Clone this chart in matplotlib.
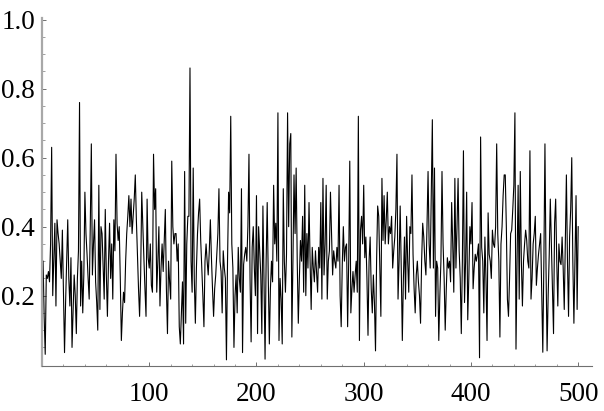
import matplotlib
matplotlib.use("Agg")
import matplotlib.pyplot as plt
from matplotlib.ticker import MultipleLocator, FixedLocator
import numpy as np

values = [
    0.30, 0.14, 0.03, 0.26, 0.25, 0.27, 0.24, 0.35, 0.63, 0.20,
    0.30, 0.41, 0.17, 0.42, 0.38, 0.35, 0.30, 0.25, 0.39, 0.22,
    0.035, 0.18, 0.30, 0.42, 0.25, 0.17, 0.31, 0.05, 0.15, 0.26,
    0.20, 0.09, 0.25, 0.33, 0.76, 0.17, 0.30, 0.15, 0.26, 0.50,
    0.38, 0.32, 0.25, 0.19, 0.40, 0.64, 0.26, 0.35, 0.42, 0.24,
    0.18, 0.10, 0.52, 0.16, 0.40, 0.38, 0.28, 0.19, 0.45, 0.26,
    0.14, 0.30, 0.41, 0.25, 0.35, 0.19, 0.42, 0.33, 0.61, 0.41,
    0.36, 0.40, 0.25, 0.07, 0.15, 0.21, 0.18, 0.30, 0.38, 0.43,
    0.49, 0.40, 0.48, 0.38, 0.43, 0.48, 0.55, 0.42, 0.32, 0.22,
    0.14, 0.26, 0.50, 0.40, 0.31, 0.22, 0.14, 0.48, 0.31, 0.28,
    0.35, 0.23, 0.21, 0.61, 0.45, 0.51, 0.21, 0.30, 0.40, 0.17,
    0.28, 0.35, 0.27, 0.36, 0.45, 0.22, 0.09, 0.30, 0.24, 0.19,
    0.59, 0.40, 0.35, 0.38, 0.38, 0.30, 0.35, 0.11, 0.06, 0.15,
    0.24, 0.06, 0.56, 0.12, 0.35, 0.43, 0.43, 0.86, 0.30, 0.21,
    0.57, 0.25, 0.12, 0.28, 0.38, 0.44, 0.48, 0.36, 0.28, 0.20,
    0.11, 0.30, 0.35, 0.30, 0.26, 0.33, 0.42, 0.31, 0.22, 0.14,
    0.22, 0.26, 0.32, 0.38, 0.51, 0.30, 0.27, 0.15, 0.33, 0.28,
    0.25, 0.014, 0.30, 0.50, 0.44, 0.72, 0.35, 0.28, 0.05, 0.20,
    0.26, 0.15, 0.34, 0.25, 0.21, 0.51, 0.035, 0.29, 0.32, 0.34,
    0.30, 0.40, 0.61, 0.25, 0.066, 0.34, 0.40, 0.28, 0.20, 0.49,
    0.09, 0.40, 0.33, 0.26, 0.09, 0.46, 0.25, 0.016, 0.30, 0.47,
    0.25, 0.06, 0.22, 0.30, 0.24, 0.52, 0.35, 0.41, 0.30, 0.73,
    0.07, 0.25, 0.19, 0.06, 0.51, 0.30, 0.21, 0.32, 0.73, 0.40,
    0.64, 0.67, 0.08, 0.30, 0.55, 0.38, 0.57, 0.30, 0.12, 0.25,
    0.36, 0.30, 0.43, 0.21, 0.52, 0.20, 0.38, 0.28, 0.47, 0.30,
    0.16, 0.34, 0.28, 0.24, 0.33, 0.27, 0.21, 0.34, 0.28, 0.47,
    0.19, 0.54, 0.26, 0.35, 0.52, 0.19, 0.30, 0.33, 0.50, 0.38,
    0.26, 0.33, 0.30, 0.28, 0.34, 0.30, 0.52, 0.20, 0.11, 0.29,
    0.40, 0.30, 0.34, 0.35, 0.11, 0.30, 0.59, 0.15, 0.22, 0.27,
    0.21, 0.26, 0.30, 0.21, 0.72, 0.07, 0.39, 0.43, 0.35, 0.52,
    0.31, 0.37, 0.25, 0.085, 0.30, 0.37, 0.22, 0.15, 0.26, 0.18,
    0.04, 0.30, 0.46, 0.43, 0.28, 0.14, 0.54, 0.36, 0.49, 0.35,
    0.42, 0.50, 0.35, 0.40, 0.38, 0.43, 0.28, 0.33, 0.37, 0.45,
    0.61, 0.19, 0.30, 0.46, 0.28, 0.07, 0.25, 0.37, 0.19, 0.43,
    0.30, 0.21, 0.40, 0.38, 0.55, 0.32, 0.22, 0.15, 0.26, 0.30,
    0.24, 0.20, 0.12, 0.30, 0.41, 0.37, 0.30, 0.26, 0.40, 0.56,
    0.35, 0.28, 0.50, 0.71, 0.28, 0.57, 0.14, 0.30, 0.28, 0.07,
    0.20, 0.30, 0.56, 0.35, 0.25, 0.10, 0.22, 0.31, 0.28, 0.30,
    0.24, 0.47, 0.35, 0.21, 0.54, 0.28, 0.40, 0.54, 0.33, 0.25,
    0.09, 0.30, 0.62, 0.18, 0.30, 0.50, 0.13, 0.25, 0.40, 0.35,
    0.47, 0.22, 0.28, 0.32, 0.30, 0.32, 0.35, 0.02, 0.66, 0.34,
    0.30, 0.15, 0.37, 0.25, 0.07, 0.44, 0.32, 0.30, 0.25, 0.39,
    0.35, 0.34, 0.40, 0.64, 0.38, 0.30, 0.08, 0.35, 0.40, 0.49,
    0.55, 0.55, 0.40, 0.19, 0.14, 0.25, 0.38, 0.39, 0.45, 0.52,
    0.73, 0.045, 0.30, 0.52, 0.19, 0.56, 0.30, 0.17, 0.30, 0.35,
    0.39, 0.36, 0.30, 0.28, 0.62, 0.19, 0.25, 0.35, 0.38, 0.43,
    0.23, 0.28, 0.32, 0.35, 0.38, 0.20, 0.036, 0.30, 0.64, 0.28,
    0.04, 0.20, 0.32, 0.48, 0.35, 0.21, 0.09, 0.41, 0.48, 0.30,
    0.17, 0.35, 0.30, 0.29, 0.37, 0.28, 0.16, 0.35, 0.55, 0.30,
    0.14, 0.37, 0.45, 0.60, 0.30, 0.12, 0.30, 0.49, 0.16, 0.40,
]
x_values = list(range(1, len(values) + 1))

x_ticks = [100, 200, 300, 400, 500]
x_tick_labels = ["100", "200", "300", "400", "500"]
y_ticks = [0.2, 0.4, 0.6, 0.8, 1.0]
y_tick_labels = ["0.2", "0.4", "0.6", "0.8", "1.0"]

W, H = 604, 411
fig = plt.figure(figsize=(W / 100, H / 100), dpi=100)
left_px, right_px = 42.0, 591.7
bottom_px, top_px = 365.7, 18.3
ax = fig.add_axes([left_px / W, 1 - bottom_px / H,
                   (right_px - left_px) / W, (bottom_px - top_px) / H])

ax.plot(x_values, values, color="black", linewidth=0.8, antialiased=True)

ax.set_xlim(0, 512.6)
ax.set_ylim(-0.003, 1.004)

for s in ["top", "right"]:
    ax.spines[s].set_visible(False)
ax.spines["left"].set_color("#a8a8a8")
ax.spines["left"].set_linewidth(1.6)
ax.spines["bottom"].set_color("#707070")
ax.spines["bottom"].set_linewidth(0.8)

ax.xaxis.set_major_locator(FixedLocator(x_ticks))
ax.set_xticklabels(x_tick_labels)
ax.xaxis.set_minor_locator(MultipleLocator(20))
ax.yaxis.set_major_locator(FixedLocator(y_ticks))
ax.set_yticklabels(y_tick_labels)
ax.yaxis.set_minor_locator(FixedLocator([0.05 * k for k in range(1, 20)]))

ax.tick_params(axis="both", which="major", direction="in", length=3.2,
               width=0.7, color="#707070")
ax.tick_params(axis="both", which="minor", direction="in", length=1.8,
               width=0.6, color="#909090")
ax.tick_params(axis="x", which="major", pad=12.0)
ax.tick_params(axis="y", which="major", pad=5)

for lab in ax.get_xticklabels() + ax.get_yticklabels():
    lab.set_fontfamily("Liberation Serif")
    lab.set_fontsize(19.5)
    lab.set_color("black")

fig.savefig("out.png", dpi=100)
